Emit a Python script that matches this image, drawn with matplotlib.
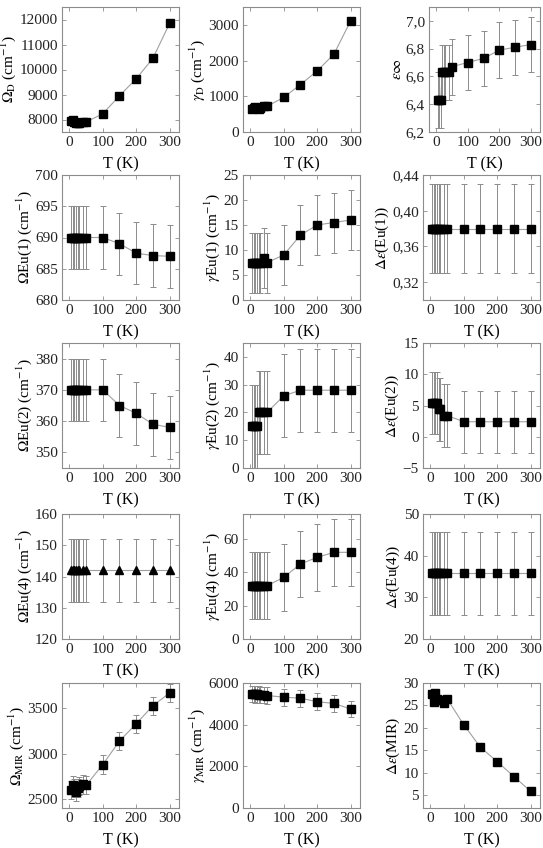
import numpy as np
import matplotlib
matplotlib.use("Agg")
import matplotlib.pyplot as plt
from matplotlib.ticker import FuncFormatter, MultipleLocator

plt.rcParams['font.family'] = ['Liberation Serif', 'DejaVu Serif']
plt.rcParams['mathtext.fontset'] = 'stix'

# temperatures (K)
T = [5, 10, 15, 20, 25, 30, 40, 50, 100, 150, 200, 250, 300]

# row 1
omega_d = [7950, 8000, 7900, 7850, 7850, 7870, 7900, 7900, 8230, 8950, 9630, 10450, 11850]
gamma_d = [650, 680, 700, 660, 640, 680, 720, 720, 970, 1330, 1710, 2180, 3110]
eps_inf = [6.43, 6.43, 6.43, 6.63, 6.63, 6.63, 6.63, 6.67, 6.70, 6.73, 6.79, 6.81, 6.83]
eps_inf_err = [0.2] * 13

# row 2
omega_eu1 = [690, 690, 690, 690, 690, 690, 690, 690, 690, 689, 687.5, 687.1, 687]
omega_eu1_err = [5] * 13
gamma_eu1 = [7.5, 7.5, 7.5, 7.5, 7.5, 7.5, 8.5, 7.5, 9, 13, 15, 15.5, 16]
gamma_eu1_err = [6] * 13
deps_eu1 = [0.38] * 13
deps_eu1_err = [0.05] * 13

# row 3
omega_eu2 = [370, 370, 370, 370, 370, 370, 370, 370, 370, 365, 362.5, 359, 358]
omega_eu2_err = [10] * 13
gamma_eu2 = [15, 15, 15, 15, 20, 20, 20, 20, 26, 28, 28, 28, 28]
gamma_eu2_err = [15] * 13
deps_eu2 = [5.4, 5.4, 5.4, 5.4, 4.4, 4.4, 3.4, 3.4, 2.4, 2.4, 2.4, 2.4, 2.4]
deps_eu2_err = [5] * 13

# row 4
omega_eu4 = [142] * 13
omega_eu4_err = [10] * 13
gamma_eu4 = [32, 32, 32, 32, 32, 32, 32, 32, 37, 45, 49, 52, 52]
gamma_eu4_err = [20] * 13
deps_eu4 = [35.8] * 13
deps_eu4_err = [10] * 13

# row 5
omega_mir = [2600, 2650, 2620, 2580, 2620, 2640, 2660, 2650, 2880, 3140, 3330, 3530, 3670]
omega_mir_err = [100] * 13
gamma_mir = [5480, 5470, 5460, 5450, 5440, 5430, 5420, 5400, 5320, 5270, 5100, 5020, 4750]
gamma_mir_err = [400] * 13
deps_mir = [27.5, 25.8, 27.8, 26.5, 26.3, 26.2, 25.6, 26.5, 20.7, 15.7, 12.5, 9.2, 5.9]

comma = FuncFormatter(lambda v, p: f"{v:.1f}".replace('.', ','))
comma2 = FuncFormatter(lambda v, p: f"{v:.2f}".replace('.', ','))

panels = [
    (omega_d, None, r'$\Omega_\mathrm{D}$ (cm$^{-1}$)', (7500, 12500), 1000, None, 's'),
    (gamma_d, None, r'$\gamma_\mathrm{D}$ (cm$^{-1}$)', (0, 3500), 1000, None, 's'),
    (eps_inf, eps_inf_err, r'$\varepsilon\infty$', (6.2, 7.1), 0.2, comma, 's'),
    (omega_eu1, omega_eu1_err, r'$\Omega$Eu(1) (cm$^{-1}$)', (680, 700), 5, None, 's'),
    (gamma_eu1, gamma_eu1_err, r'$\gamma$Eu(1) (cm$^{-1}$)', (0, 25), 5, None, 's'),
    (deps_eu1, deps_eu1_err, r'$\Delta\varepsilon$(Eu(1))', (0.30, 0.44), 0.04, comma2, 's'),
    (omega_eu2, omega_eu2_err, r'$\Omega$Eu(2) (cm$^{-1}$)', (345, 385), 10, None, 's'),
    (gamma_eu2, gamma_eu2_err, r'$\gamma$Eu(2) (cm$^{-1}$)', (0, 45), 10, None, 's'),
    (deps_eu2, deps_eu2_err, r'$\Delta\varepsilon$(Eu(2))', (-5, 15), 5, None, 's'),
    (omega_eu4, omega_eu4_err, r'$\Omega$Eu(4) (cm$^{-1}$)', (120, 160), 10, None, '^'),
    (gamma_eu4, gamma_eu4_err, r'$\gamma$Eu(4) (cm$^{-1}$)', (0, 75), 20, None, 's'),
    (deps_eu4, deps_eu4_err, r'$\Delta\varepsilon$(Eu(4))', (20, 50), 10, None, 's'),
    (omega_mir, omega_mir_err, r'$\Omega_\mathrm{MIR}$ (cm$^{-1}$)', (2400, 3780), 500, None, 's'),
    (gamma_mir, gamma_mir_err, r'$\gamma_\mathrm{MIR}$ (cm$^{-1}$)', (0, 6000), 2000, None, 's'),
    (deps_mir, None, r'$\Delta\varepsilon$(MIR)', (2.2, 30), 5, None, 's'),
]

W, H = 543, 848
col_left = [62, 243, 423]
col_w = 117
row_top = [7, 175, 343, 514, 683]
row_h = 125

fig = plt.figure(figsize=(W / 100, H / 100), dpi=100)
gray = '#8c8c8c'

for i, (y, err, lab, ylim, step, fmt, mk) in enumerate(panels):
    r, c = divmod(i, 3)
    left = col_left[c]
    width = col_w
    if i == 2:
        left, width = 429, 111
    ax = fig.add_axes([left / W, 1 - (row_top[r] + row_h) / H, width / W, row_h / H])
    ax.plot(T, y, '-', color='#a0a0a0', lw=0.8, zorder=1)
    if err is not None:
        ax.errorbar(T, y, yerr=err, fmt='none', ecolor=gray, elinewidth=0.7,
                    capsize=2, capthick=0.7, zorder=2)
    ax.plot(T, y, mk, color='black', ms=5.5 if mk == 's' else 6, zorder=3)
    ax.set_xlim(-22, 328)
    ax.set_ylim(*ylim)
    ax.xaxis.set_major_locator(MultipleLocator(100))
    ax.yaxis.set_major_locator(MultipleLocator(step))
    if fmt is not None:
        ax.yaxis.set_major_formatter(fmt)
    ax.tick_params(direction='in', top=True, right=True, length=3, width=0.6,
                   color=gray, labelsize=11, labelcolor='#222222', pad=3)
    for s in ax.spines.values():
        s.set_color(gray)
        s.set_linewidth(0.8)
    ax.set_xlabel('T (K)', fontsize=11.5, labelpad=5)
    ax.set_ylabel(lab, fontsize=11, labelpad=1)

fig.savefig('out.png', dpi=100)
